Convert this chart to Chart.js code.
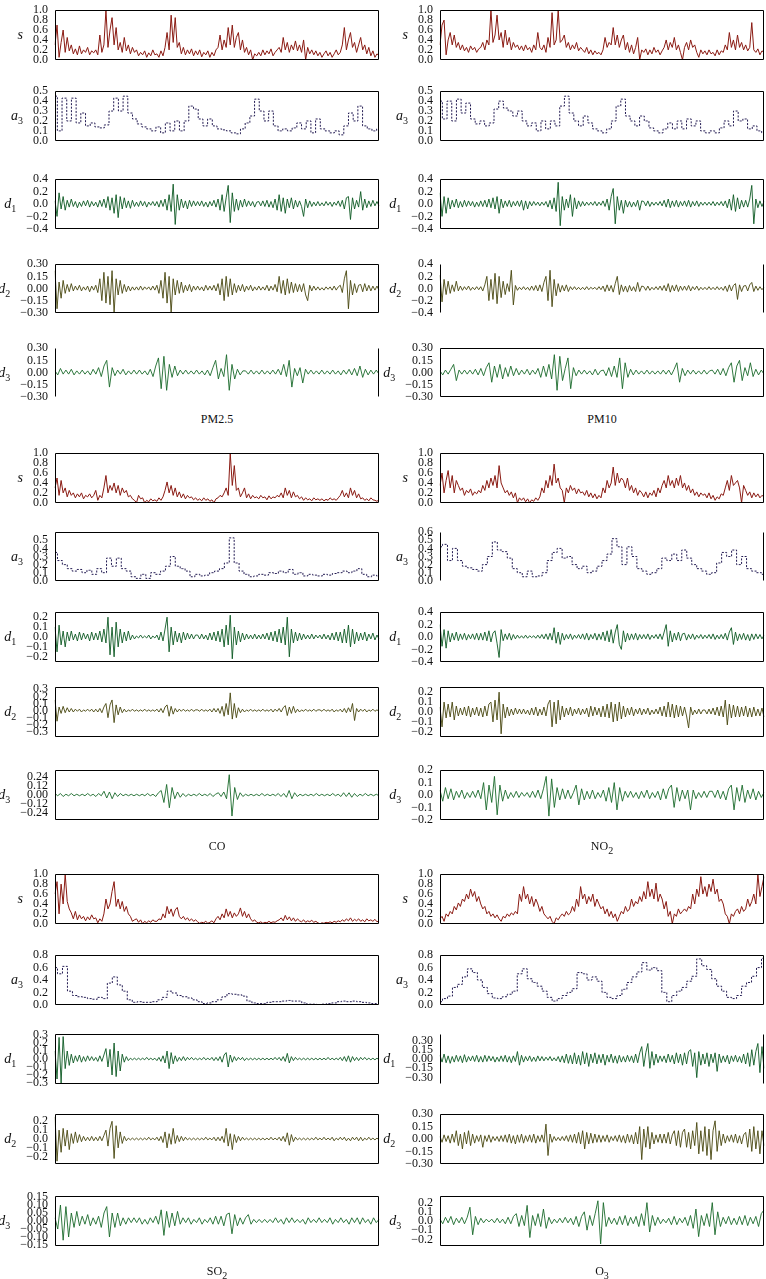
<!DOCTYPE html>
<html>
<head>
<meta charset="utf-8">
<script src="https://cdn.jsdelivr.net/npm/chart.js@4.4.1/dist/chart.umd.min.js"></script>
<style>
  body { margin: 0; background: #fff; width: 766px; height: 1279px; position: relative; overflow: hidden; font-family: "Liberation Serif", serif; color: #111; }
  .ylab { position: absolute; font-size: 14px; line-height: 18px; white-space: nowrap; }
  .ylab sub, .cap sub { font-style: normal; font-size: 10px; vertical-align: -4px; line-height: 0; }
  .cap { position: absolute; width: 200px; text-align: center; font-size: 12px; line-height: 16px; }
</style>
</head>
<body>
<script>
'use strict';

// values (normalised series s, approximation a3, details d1..d3)
const pm25S = [0.30,0.70,0.05,0.35,0.60,0.15,0.45,0.18,0.30,0.12, 0.22,0.10,0.28,0.12,0.20,0.15,0.25,0.10,0.18,0.14,
  0.20,0.10,0.50,0.15,0.30,1.00,0.25,0.60,0.85,0.30, 0.65,0.20,0.35,0.15,0.45,0.18,0.30,0.12,0.25,0.15,
  0.20,0.08,0.15,0.10,0.18,0.05,0.14,0.08,0.20,0.10, 0.12,0.05,0.18,0.08,0.25,0.55,0.20,0.90,0.35,0.85,
  0.25,0.35,0.12,0.25,0.10,0.20,0.12,0.22,0.08,0.18, 0.10,0.20,0.06,0.15,0.10,0.18,0.05,0.15,0.08,0.20,
  0.25,0.50,0.20,0.40,0.25,0.65,0.30,0.70,0.25,0.45, 0.55,0.20,0.40,0.15,0.25,0.10,0.20,0.00,0.12,0.08,
  0.15,0.08,0.20,0.10,0.18,0.12,0.22,0.08,0.15,0.20, 0.25,0.15,0.45,0.20,0.35,0.15,0.30,0.20,0.38,0.18,
  0.30,0.15,0.40,0.00,0.25,0.12,0.20,0.10,0.18,0.08, 0.15,0.05,0.12,0.18,0.08,0.15,0.05,0.12,0.20,0.10,
  0.15,0.30,0.65,0.20,0.40,0.55,0.25,0.35,0.15,0.30, 0.45,0.20,0.30,0.12,0.25,0.08,0.18,0.05,0.12,0.08];
const pm25A3 = [0.45,0.10,0.43,0.20,0.43,0.18,0.28,0.15,0.18,0.14,0.13,0.16,0.30,0.43,0.30,0.45,0.28,0.22,0.17,0.14,
  0.12,0.10,0.14,0.08,0.18,0.10,0.20,0.10,0.20,0.35,0.32,0.22,0.15,0.22,0.15,0.12,0.11,0.10,0.08,0.07,
  0.12,0.18,0.25,0.42,0.30,0.20,0.30,0.15,0.10,0.12,0.10,0.13,0.18,0.12,0.20,0.08,0.22,0.12,0.10,0.08,
  0.10,0.06,0.15,0.28,0.20,0.35,0.15,0.12,0.10,0.12];
const pm25D1 = [0.05,-0.20,0.18,-0.08,0.12,-0.10,0.06,-0.05,0.08,-0.04, 0.04,-0.06,0.03,-0.04,0.05,-0.03,0.06,-0.05,0.04,-0.03,
  0.03,-0.05,0.06,-0.04,0.08,-0.06,0.12,-0.10,0.10,-0.15, 0.15,-0.22,0.12,-0.08,0.10,-0.06,0.05,-0.07,0.06,-0.04,
  0.03,-0.04,0.05,-0.03,0.04,-0.05,0.03,-0.02,0.04,-0.03, 0.04,-0.05,0.06,-0.04,0.08,-0.10,0.15,-0.12,0.32,-0.33,
  0.15,-0.10,0.08,-0.06,0.05,-0.08,0.06,-0.04,0.05,-0.03, 0.04,-0.03,0.05,-0.04,0.03,-0.05,0.04,-0.03,0.06,-0.05,
  0.08,-0.10,0.15,-0.12,0.10,0.30,-0.30,0.18,-0.12,0.08, -0.10,0.06,-0.05,0.08,-0.04,0.05,-0.03,0.04,-0.05,0.03,
  0.04,-0.03,0.05,-0.04,0.06,-0.05,0.04,-0.06,0.08,-0.10, 0.15,-0.12,0.10,-0.15,0.08,-0.06,0.10,-0.08,0.06,-0.05,
  0.05,-0.04,-0.20,0.08,-0.06,0.05,-0.04,0.03,-0.03,0.04, -0.03,0.02,-0.03,0.04,-0.02,0.03,-0.04,0.03,-0.02,0.05,
  -0.04,0.06,-0.08,0.10,0.12,-0.25,0.10,-0.08,0.06,-0.05, 0.20,-0.10,0.08,-0.06,0.05,-0.04,0.06,-0.03,0.04,-0.03];
const pm25D2 = [0.22,-0.25,0.08,-0.12,0.10,-0.06,0.05,-0.04,0.06,-0.03, 0.03,-0.02,0.04,-0.03,0.02,-0.02,0.03,-0.04,0.03,-0.02,
  0.04,-0.05,0.12,-0.15,0.20,-0.18,0.15,-0.20,0.22,-0.30, 0.12,-0.08,0.10,-0.06,0.05,-0.04,0.03,-0.03,0.02,-0.02,
  0.02,-0.02,0.03,-0.02,0.02,-0.01,0.02,-0.02,0.03,-0.02, 0.04,-0.06,0.10,-0.12,0.20,-0.18,0.15,-0.30,0.12,-0.08,
  0.10,-0.06,0.08,-0.05,0.04,-0.03,0.05,-0.04,0.03,-0.02, 0.03,-0.02,0.02,-0.03,0.04,-0.02,0.03,-0.02,0.04,-0.03,
  0.06,-0.08,0.12,-0.15,0.15,-0.10,0.12,-0.08,0.06,-0.05, 0.04,-0.03,0.05,-0.04,0.03,-0.02,0.04,-0.03,0.02,-0.02,
  0.03,-0.02,0.02,-0.02,0.04,-0.03,0.03,-0.02,0.05,-0.04, 0.15,-0.06,0.10,-0.08,0.12,-0.06,0.08,-0.05,0.06,-0.04,
  0.05,-0.04,0.06,-0.08,-0.15,0.04,-0.03,0.03,-0.02,0.02, -0.02,0.01,-0.02,0.02,-0.01,0.02,-0.02,0.03,-0.02,0.02,
  0.04,-0.05,0.12,0.22,-0.25,0.10,-0.08,0.06,-0.05,0.04, 0.05,-0.04,0.06,-0.03,0.04,-0.03,0.03,-0.02,0.03,-0.02];
const pm25D3 = [0.02,-0.03,0.05,-0.02,0.03,-0.02,0.04,-0.03,0.02,-0.02, 0.03,-0.02,0.02,-0.03,0.04,-0.02,0.06,-0.05,0.08,0.15,
  -0.18,0.06,-0.04,0.03,-0.02,0.04,-0.03,0.02,-0.02,0.03, -0.02,0.03,-0.02,0.02,-0.03,0.04,-0.05,0.08,0.18,-0.20,
  0.20,-0.22,0.10,-0.06,0.08,-0.04,0.03,-0.02,0.03,-0.02, 0.02,-0.02,0.03,-0.02,0.02,-0.03,0.03,-0.04,0.06,0.15,
  -0.08,0.05,-0.05,0.22,-0.22,0.10,-0.08,0.04,-0.03,0.02, 0.02,-0.02,0.03,-0.02,0.02,-0.02,0.03,-0.02,0.02,-0.02,
  0.03,-0.02,0.04,-0.03,0.10,-0.05,0.15,-0.18,0.05,-0.04, 0.06,-0.13,0.04,-0.02,0.03,-0.02,0.02,-0.02,0.03,-0.02,
  0.02,-0.02,0.03,-0.02,0.02,-0.03,0.03,-0.02,0.04,-0.03, 0.05,-0.04,0.08,-0.06,0.04,-0.03,0.03,-0.02,0.03,-0.02];

const pm10S = [0.30,0.70,0.80,0.10,0.40,0.55,0.30,0.50,0.25,0.35, 0.20,0.30,0.18,0.25,0.15,0.28,0.20,0.25,0.15,0.22,
  0.25,0.35,0.20,0.40,0.30,1.00,0.35,0.50,0.90,0.40, 0.55,0.25,0.60,0.30,0.45,0.20,0.35,0.25,0.30,0.20,
  0.28,0.18,0.30,0.20,0.25,0.15,0.30,0.20,0.55,0.25, 0.20,0.30,0.15,0.45,0.25,0.95,0.30,0.40,1.00,0.35,
  0.40,0.50,0.25,0.35,0.20,0.30,0.22,0.35,0.18,0.25, 0.20,0.15,0.25,0.12,0.20,0.10,0.18,0.12,0.15,0.10,
  0.20,0.45,0.25,0.35,0.30,0.65,0.30,0.50,0.25,0.40, 0.50,0.20,0.35,0.15,0.30,0.12,0.25,0.45,0.00,0.20,
  0.15,0.22,0.10,0.20,0.12,0.25,0.15,0.20,0.10,0.18, 0.25,0.40,0.20,0.35,0.25,0.45,0.20,0.30,0.15,0.00,
  0.25,0.35,0.20,0.40,0.25,0.30,0.15,0.05,0.20,0.12, 0.18,0.10,0.20,0.12,0.15,0.08,0.20,0.10,0.18,0.15,
  0.30,0.20,0.55,0.25,0.40,0.20,0.50,0.25,0.35,0.20, 0.30,0.18,0.25,0.75,0.20,0.15,0.22,0.10,0.18,0.15];
const pm10A3 = [0.40,0.22,0.40,0.20,0.42,0.28,0.38,0.22,0.17,0.20,0.15,0.18,0.32,0.40,0.33,0.30,0.25,0.30,0.20,0.15,
  0.18,0.10,0.20,0.12,0.20,0.15,0.35,0.45,0.28,0.20,0.15,0.25,0.18,0.12,0.10,0.08,0.12,0.20,0.35,0.42,
  0.25,0.20,0.15,0.25,0.20,0.13,0.10,0.08,0.12,0.18,0.12,0.20,0.12,0.22,0.15,0.20,0.10,0.08,0.10,0.08,
  0.13,0.20,0.15,0.30,0.20,0.22,0.12,0.15,0.10,0.08];
const pm10D1 = [0.18,-0.20,0.12,-0.15,0.10,-0.08,0.06,-0.05,0.08,-0.06, 0.04,-0.05,0.06,-0.04,0.05,-0.03,0.04,-0.05,0.03,-0.04,
  0.05,-0.04,0.06,-0.05,0.08,-0.06,0.10,-0.08,0.12,-0.15, 0.08,-0.06,0.05,-0.04,0.06,-0.05,0.04,-0.03,0.05,-0.04,
  0.06,-0.10,0.05,-0.08,0.04,-0.03,0.04,-0.02,0.03,-0.03, 0.03,-0.02,0.04,-0.05,0.06,-0.08,0.10,-0.12,0.35,-0.35,
  0.12,-0.10,0.08,-0.06,0.15,-0.20,0.10,-0.08,0.05,-0.04, 0.04,-0.03,0.03,-0.02,0.03,-0.02,0.04,-0.03,0.03,-0.02,
  0.05,-0.04,0.08,-0.10,0.12,0.25,-0.32,0.12,-0.10,0.06, -0.15,0.06,-0.05,0.04,-0.05,0.03,-0.04,0.06,-0.10,0.05,
  0.04,-0.03,0.05,-0.04,0.03,-0.02,0.03,-0.02,0.04,-0.03, 0.06,-0.05,0.08,-0.06,0.05,-0.04,0.06,-0.05,0.04,-0.03,
  0.05,-0.04,0.06,-0.05,0.04,-0.03,0.05,-0.04,0.03,-0.02, 0.03,-0.02,0.03,-0.02,0.04,-0.03,0.03,-0.02,0.04,-0.03,
  0.05,-0.06,0.08,-0.10,0.15,-0.12,0.10,-0.08,0.06,-0.05, 0.06,-0.05,0.08,0.30,-0.32,0.08,-0.06,0.05,-0.04,0.04];
const pm10D2 = [0.22,-0.22,0.15,-0.10,0.12,-0.08,0.06,-0.05,0.12,-0.04, 0.04,-0.03,0.03,-0.02,0.04,-0.03,0.02,-0.02,0.03,-0.02,
  0.03,-0.04,0.06,0.20,-0.20,0.15,-0.18,0.25,-0.25,0.20, -0.15,0.12,-0.10,0.08,-0.05,0.30,-0.27,0.05,-0.03,0.02,
  -0.02,0.03,-0.02,0.02,-0.03,0.04,-0.03,0.05,-0.04,0.06, -0.05,0.10,0.20,-0.20,0.30,-0.30,0.15,-0.12,0.08,-0.06,
  0.05,-0.04,0.06,-0.05,0.03,-0.02,0.03,-0.02,0.02,-0.02, 0.02,-0.02,0.03,-0.02,0.02,-0.01,0.02,-0.02,0.03,-0.02,
  0.04,-0.05,0.06,-0.04,0.05,-0.06,0.08,0.20,-0.10,0.06, -0.05,0.04,-0.06,0.05,-0.04,0.03,-0.05,0.10,-0.05,0.04,
  0.03,-0.03,0.04,-0.03,0.02,-0.02,0.03,-0.02,0.04,-0.03, 0.05,-0.04,0.08,-0.06,0.05,-0.04,0.06,-0.05,0.04,-0.03,
  0.04,-0.03,0.05,-0.04,0.03,-0.02,0.04,-0.03,0.02,-0.02, 0.02,-0.02,0.03,-0.02,0.02,-0.02,0.03,-0.02,0.02,-0.03,
  0.04,-0.05,0.06,-0.04,0.05,0.08,-0.18,0.06,-0.05,0.04, 0.05,-0.04,0.06,0.10,-0.05,0.04,-0.03,0.03,-0.02,0.02];
const pm10D3 = [0.02,-0.03,0.03,-0.02,0.04,0.10,-0.10,0.03,-0.02,0.03, -0.02,0.03,-0.02,0.04,-0.03,0.05,-0.04,0.06,0.12,-0.12,
  0.08,-0.06,0.10,-0.08,0.06,-0.05,0.08,-0.04,0.05,-0.03, 0.03,-0.02,0.04,-0.03,0.03,-0.02,0.05,-0.06,0.08,-0.05,
  0.10,-0.08,0.22,-0.22,0.20,-0.10,0.05,0.18,-0.20,0.06, -0.04,0.03,-0.02,0.03,-0.02,0.02,-0.03,0.04,-0.03,0.02,
  0.03,-0.04,0.06,-0.05,0.08,-0.06,0.18,-0.20,0.12,-0.06, 0.04,-0.03,0.03,-0.02,0.02,-0.02,0.03,-0.02,0.02,-0.02,
  0.02,-0.02,0.03,-0.02,0.03,-0.03,0.04,0.12,-0.12,0.05, -0.04,0.03,-0.02,0.03,-0.02,0.02,-0.02,0.03,-0.02,0.02,
  0.03,-0.02,0.04,-0.03,0.05,-0.04,0.06,0.12,-0.12,0.08, 0.15,-0.10,0.06,-0.04,0.12,-0.05,0.04,-0.03,0.03,-0.02];

const coS = [0.30,0.50,0.15,0.45,0.20,0.30,0.12,0.25,0.15,0.20, 0.10,0.18,0.12,0.20,0.08,0.15,0.12,0.18,0.10,0.15,
  0.25,0.05,0.15,0.10,0.30,0.55,0.20,0.35,0.25,0.40, 0.20,0.35,0.15,0.30,0.20,0.25,0.12,0.15,0.08,0.05,
  0.00,0.15,0.08,0.10,0.00,0.05,0.02,0.08,0.04,0.06, 0.03,0.10,0.05,0.12,0.25,0.42,0.20,0.35,0.15,0.30,
  0.12,0.22,0.10,0.18,0.08,0.15,0.10,0.12,0.06,0.10, 0.05,0.08,0.04,0.10,0.05,0.08,0.03,0.06,0.00,0.08,
  0.10,0.15,0.12,0.20,0.30,0.15,1.00,0.35,0.75,0.25, 0.30,0.12,0.20,0.30,0.10,0.18,0.08,0.15,0.10,0.12,
  0.08,0.15,0.10,0.12,0.06,0.14,0.08,0.12,0.10,0.15, 0.12,0.20,0.10,0.30,0.15,0.25,0.10,0.22,0.12,0.15,
  0.08,0.12,0.05,0.10,0.06,0.08,0.04,0.10,0.06,0.08, 0.05,0.08,0.04,0.07,0.05,0.10,0.06,0.08,0.05,0.10,
  0.15,0.25,0.12,0.20,0.10,0.30,0.15,0.25,0.10,0.18, 0.08,0.10,0.05,0.08,0.04,0.10,0.06,0.05,0.03,0.06];
const coA3 = [0.35,0.25,0.20,0.15,0.12,0.14,0.10,0.13,0.08,0.15,0.10,0.28,0.18,0.28,0.15,0.12,0.05,0.03,0.08,0.03,
  0.10,0.08,0.12,0.18,0.30,0.18,0.15,0.12,0.05,0.08,0.06,0.07,0.10,0.12,0.15,0.22,0.53,0.22,0.12,0.08,
  0.05,0.06,0.08,0.07,0.10,0.09,0.12,0.10,0.14,0.08,0.10,0.06,0.08,0.07,0.06,0.08,0.07,0.09,0.10,0.12,
  0.10,0.12,0.15,0.08,0.05,0.07,0.06];
const coD1 = [0.10,-0.15,0.12,-0.08,0.06,-0.10,0.05,-0.04,0.06,-0.03, 0.03,-0.04,0.05,-0.03,0.04,-0.02,0.03,-0.04,0.05,-0.03,
  0.04,-0.03,0.06,-0.05,0.08,-0.06,0.20,-0.18,0.10,-0.20, 0.15,-0.10,0.08,-0.06,0.05,-0.04,0.06,-0.03,0.02,-0.02,
  0.01,-0.01,0.02,-0.01,0.01,-0.01,0.02,-0.02,0.01,-0.01, 0.02,-0.03,0.05,-0.04,0.08,0.20,-0.15,0.10,-0.08,0.06,
  -0.05,0.04,-0.06,0.05,-0.03,0.04,-0.02,0.03,-0.02,0.02, 0.02,-0.02,0.03,-0.02,0.02,-0.03,0.04,-0.03,0.05,-0.04,
  0.06,-0.05,0.08,-0.10,0.12,-0.08,0.22,-0.22,0.10,-0.08, 0.06,-0.05,0.04,-0.03,0.03,-0.02,0.02,-0.02,0.03,-0.02,
  0.02,-0.02,0.03,-0.02,0.04,-0.03,0.05,-0.04,0.06,-0.05, 0.08,-0.06,0.10,-0.08,0.20,-0.20,0.08,-0.06,0.05,-0.04,
  0.04,-0.03,0.03,-0.02,0.02,-0.02,0.03,-0.02,0.02,-0.01, 0.02,-0.02,0.03,-0.02,0.02,-0.03,0.04,-0.03,0.05,-0.04,
  0.05,-0.06,0.08,-0.06,0.12,-0.10,0.08,-0.07,0.05,-0.04, 0.04,-0.03,0.05,-0.04,0.03,-0.02,0.04,-0.03,0.02,-0.02];
const coD2 = [0.15,-0.15,0.05,-0.04,0.06,-0.03,0.04,-0.02,0.03,-0.02, 0.02,-0.01,0.02,-0.02,0.01,-0.01,0.02,-0.01,0.02,-0.02,
  0.02,-0.02,0.03,-0.03,0.05,0.10,-0.10,0.08,0.15,-0.17, 0.08,-0.06,0.05,-0.03,0.02,-0.02,0.01,-0.01,0.02,-0.01,
  0.01,-0.01,0.01,-0.01,0.02,-0.01,0.01,-0.01,0.01,-0.01, 0.02,-0.02,0.03,-0.03,0.05,0.08,-0.08,0.06,-0.05,0.03,
  -0.02,0.02,-0.01,0.02,-0.01,0.01,-0.01,0.02,-0.01,0.01, 0.01,-0.01,0.02,-0.01,0.01,-0.01,0.02,-0.02,0.03,-0.02,
  0.03,-0.04,0.06,-0.08,0.10,-0.06,0.25,-0.12,0.10,-0.10, 0.04,-0.03,0.02,-0.02,0.01,-0.01,0.02,-0.01,0.01,-0.01,
  0.01,-0.01,0.02,-0.01,0.01,-0.01,0.02,-0.02,0.02,-0.01, 0.03,-0.02,0.04,0.07,-0.07,0.05,-0.04,0.06,-0.03,0.02,
  -0.02,0.01,-0.01,0.02,-0.01,0.01,-0.01,0.02,-0.01,0.01, 0.01,-0.01,0.02,-0.01,0.01,-0.01,0.02,-0.02,0.01,-0.01,
  0.02,-0.02,0.03,-0.03,0.04,-0.02,0.10,-0.14,0.03,-0.02, 0.02,-0.01,0.02,-0.02,0.01,-0.01,0.02,-0.01,0.01,-0.01];
const coD3 = [0.02,-0.01,0.02,-0.02,0.01,-0.01,0.02,-0.01,0.01,-0.01, 0.01,-0.01,0.02,-0.01,0.01,-0.02,0.02,-0.01,0.05,-0.04,
  0.04,-0.05,0.03,-0.02,0.02,-0.01,0.01,-0.01,0.01,-0.01, 0.01,-0.01,0.01,-0.01,0.02,-0.01,0.01,-0.02,0.03,0.06,
  -0.10,0.14,-0.17,0.10,-0.05,0.04,-0.03,0.02,-0.02,0.01, -0.01,0.01,-0.01,0.02,-0.01,0.01,-0.01,0.02,-0.02,0.01,
  0.03,-0.02,0.04,-0.05,0.27,-0.28,0.10,-0.06,0.03,-0.02, 0.01,-0.01,0.01,-0.01,0.01,-0.01,0.02,-0.01,0.01,-0.01,
  0.01,-0.01,0.02,-0.02,0.02,-0.03,0.06,-0.05,0.03,-0.02, 0.01,-0.01,0.01,-0.01,0.01,-0.01,0.02,-0.01,0.01,-0.01,
  0.01,-0.01,0.02,-0.01,0.01,-0.02,0.03,-0.02,0.03,-0.03, 0.02,-0.02,0.01,-0.01,0.02,-0.01,0.01,-0.01,0.01,-0.01];

const no2S = [0.35,0.60,0.20,0.45,0.65,0.30,0.55,0.20,0.45,0.35, 0.25,0.30,0.15,0.25,0.20,0.28,0.15,0.22,0.18,0.25,
  0.20,0.35,0.25,0.45,0.30,0.50,0.35,0.55,0.30,0.75, 0.40,0.30,0.20,0.25,0.15,0.22,0.10,0.20,0.00,0.10,
  0.05,0.10,0.02,0.08,0.00,0.06,0.03,0.10,0.05,0.12, 0.30,0.20,0.45,0.30,0.55,0.35,0.78,0.40,0.50,0.30,
  0.25,0.00,0.30,0.20,0.35,0.25,0.30,0.18,0.28,0.20, 0.22,0.15,0.25,0.12,0.20,0.10,0.18,0.08,0.15,0.10,
  0.30,0.20,0.45,0.30,0.40,0.72,0.35,0.60,0.40,0.50, 0.45,0.30,0.50,0.25,0.35,0.20,0.30,0.15,0.25,0.20,
  0.12,0.22,0.10,0.20,0.15,0.25,0.12,0.30,0.20,0.35, 0.45,0.30,0.55,0.35,0.45,0.30,0.50,0.35,0.55,0.30,
  0.40,0.25,0.35,0.20,0.28,0.15,0.22,0.12,0.20,0.15, 0.18,0.10,0.20,0.08,0.15,0.05,0.12,0.08,0.18,0.15,
  0.30,0.45,0.25,0.55,0.35,0.40,0.45,0.30,0.00,0.35, 0.25,0.15,0.22,0.10,0.20,0.12,0.18,0.10,0.15,0.12];
const no2A3 = [0.42,0.45,0.25,0.40,0.25,0.18,0.16,0.14,0.12,0.20,0.30,0.48,0.38,0.36,0.28,0.15,0.10,0.05,0.12,0.05,
  0.06,0.10,0.25,0.35,0.40,0.28,0.30,0.20,0.15,0.18,0.10,0.12,0.18,0.25,0.33,0.52,0.42,0.20,0.42,0.30,
  0.15,0.12,0.08,0.10,0.15,0.28,0.25,0.33,0.25,0.38,0.28,0.20,0.15,0.12,0.08,0.10,0.22,0.35,0.30,0.38,
  0.20,0.30,0.15,0.12,0.10,0.08];
const no2D1 = [0.20,-0.15,0.12,-0.18,0.10,-0.08,0.06,-0.05,0.08,-0.06, 0.05,-0.04,0.06,-0.05,0.04,-0.03,0.05,-0.04,0.06,-0.05,
  0.06,-0.05,0.08,-0.06,0.10,-0.08,0.06,0.10,-0.10,-0.33, 0.12,-0.06,0.05,-0.04,0.06,-0.05,0.04,-0.03,0.03,-0.02,
  0.02,-0.02,0.03,-0.02,0.02,-0.01,0.02,-0.02,0.03,-0.02, 0.04,-0.03,0.05,-0.04,0.06,-0.05,0.15,-0.10,0.08,-0.12,
  0.06,-0.05,0.04,-0.03,0.05,-0.04,0.03,-0.02,0.04,-0.03, 0.05,-0.04,0.06,-0.05,0.04,-0.03,0.06,-0.05,0.05,-0.04,
  0.08,-0.06,0.10,-0.08,0.12,-0.10,0.08,0.20,-0.12,-0.20, 0.10,-0.08,0.06,-0.05,0.05,-0.04,0.06,-0.05,0.04,-0.03,
  0.04,-0.03,0.05,-0.04,0.03,-0.02,0.04,-0.03,0.05,-0.04, 0.08,0.20,-0.15,0.10,-0.08,0.06,-0.05,0.08,-0.06,0.05,
  0.06,-0.05,0.04,-0.03,0.05,-0.04,0.03,-0.02,0.04,-0.03, 0.03,-0.02,0.04,-0.03,0.05,-0.04,0.03,-0.03,0.04,-0.03,
  0.06,-0.05,0.08,0.15,-0.12,0.08,-0.06,0.05,-0.04,0.06, -0.05,0.04,-0.06,0.05,-0.04,0.05,-0.03,0.04,-0.03,0.03];
const no2D2 = [0.05,-0.15,0.10,-0.06,0.08,-0.05,0.10,-0.08,0.06,-0.04, 0.04,-0.03,0.05,-0.04,0.06,-0.05,0.04,-0.03,0.05,-0.04,
  0.04,-0.05,0.06,-0.04,0.08,0.10,-0.10,0.12,-0.08,0.20, -0.22,0.08,-0.06,0.05,-0.04,0.03,-0.03,0.04,-0.02,0.03,
  -0.02,0.03,-0.02,0.02,-0.03,0.04,-0.03,0.05,-0.04,0.03, -0.03,0.05,-0.04,0.08,0.12,-0.15,0.10,-0.12,0.12,-0.08,
  0.06,-0.05,0.04,-0.03,0.05,-0.04,0.03,-0.02,0.04,-0.03, 0.03,-0.02,0.04,-0.05,0.06,-0.04,0.05,-0.03,0.04,-0.05,
  0.06,-0.05,0.08,-0.06,0.10,-0.10,0.08,-0.09,0.10,-0.07, 0.06,-0.05,0.04,-0.03,0.05,-0.04,0.03,-0.02,0.04,-0.03,
  0.03,-0.02,0.04,-0.03,0.02,-0.02,0.03,-0.02,0.05,-0.04, 0.06,-0.05,0.10,-0.05,0.08,-0.06,0.07,-0.05,0.06,-0.04,
  0.05,-0.04,-0.16,0.05,-0.03,0.02,-0.02,0.03,-0.02,0.02, 0.02,-0.02,0.03,-0.02,0.04,-0.03,0.05,-0.04,0.06,-0.05,
  0.12,-0.13,0.08,-0.06,0.07,-0.05,0.06,-0.05,0.05,-0.04, 0.06,-0.05,0.04,-0.05,0.05,-0.04,0.03,-0.04,0.04,-0.05];
const no2D3 = [0.04,-0.05,0.06,-0.03,0.05,-0.04,0.03,-0.02,0.04,-0.03, 0.02,-0.02,0.03,-0.02,0.04,-0.03,0.10,-0.12,0.08,-0.06,
  0.15,-0.16,0.08,-0.05,0.04,-0.03,0.02,-0.02,0.03,-0.02, 0.02,-0.01,0.02,-0.02,0.03,-0.02,0.04,-0.03,0.05,0.15,
  -0.17,0.13,-0.10,0.06,-0.04,0.05,-0.03,0.04,-0.03,0.02, 0.08,-0.08,0.05,-0.04,0.03,-0.03,0.04,-0.03,0.02,-0.02,
  0.04,-0.05,0.06,-0.06,0.10,-0.12,0.06,-0.05,0.03,-0.02, 0.03,-0.02,0.02,-0.03,0.03,-0.02,0.04,-0.03,0.02,-0.02,
  0.03,-0.04,0.05,-0.03,0.05,0.08,-0.10,0.06,-0.05,0.04, -0.03,0.04,-0.12,0.04,-0.03,0.02,-0.02,0.03,-0.02,0.03,
  0.03,-0.02,0.04,-0.03,0.03,-0.04,0.05,0.08,-0.12,0.06, -0.05,0.08,-0.06,0.04,-0.03,0.05,-0.04,0.03,-0.02,0.02];

const so2S = [0.60,0.85,0.20,0.80,0.40,1.00,0.45,0.30,0.22,0.10, 0.25,0.08,0.18,0.10,0.15,0.06,0.14,0.08,0.18,0.10,
  0.12,0.02,0.10,0.05,0.20,0.50,0.30,0.40,0.65,0.85, 0.35,0.50,0.30,0.45,0.25,0.35,0.20,0.15,0.05,0.08,
  0.10,0.03,0.08,0.00,0.05,0.02,0.06,0.03,0.08,0.05, 0.05,0.10,0.08,0.20,0.12,0.35,0.20,0.30,0.15,0.28,
  0.33,0.15,0.10,0.15,0.08,0.12,0.06,0.10,0.05,0.08, 0.04,0.01,0.03,0.02,0.05,0.01,0.03,0.06,0.02,0.10,
  0.15,0.08,0.20,0.12,0.30,0.15,0.25,0.12,0.22,0.15, 0.20,0.32,0.15,0.25,0.12,0.20,0.10,0.05,0.08,0.03,
  0.02,0.04,0.01,0.03,0.02,0.05,0.02,0.04,0.03,0.06, 0.08,0.12,0.06,0.17,0.08,0.14,0.06,0.12,0.05,0.10,
  0.06,0.04,0.08,0.03,0.06,0.04,0.07,0.03,0.05,0.02, 0.00,0.02,0.01,0.03,0.02,0.04,0.02,0.05,0.03,0.06,
  0.04,0.08,0.05,0.10,0.06,0.12,0.05,0.09,0.06,0.10, 0.05,0.08,0.04,0.10,0.06,0.08,0.05,0.09,0.04,0.06];
const so2A3 = [0.60,0.50,0.62,0.22,0.15,0.13,0.12,0.10,0.09,0.12,0.10,0.35,0.45,0.32,0.22,0.08,0.04,0.05,0.04,0.04,
  0.05,0.08,0.12,0.22,0.19,0.15,0.13,0.11,0.08,0.05,0.02,0.03,0.05,0.08,0.13,0.18,0.17,0.16,0.14,0.06,
  0.03,0.02,0.02,0.04,0.05,0.05,0.06,0.07,0.06,0.06,0.03,0.01,0.01,0.00,0.01,0.02,0.03,0.05,0.06,0.05,
  0.06,0.05,0.04,0.03,0.02,0.02];
const so2D1 = [0.10,-0.25,0.27,-0.30,0.28,-0.12,0.10,-0.08,0.06,-0.05, 0.04,-0.03,0.05,-0.04,0.03,-0.03,0.04,-0.02,0.03,-0.02,
  0.02,-0.03,0.04,-0.03,0.05,0.13,-0.10,0.12,-0.20,0.20, -0.22,0.10,-0.15,0.06,-0.04,0.03,-0.02,0.01,-0.01,0.01,
  -0.01,0.01,-0.01,0.01,-0.01,0.02,-0.01,0.01,-0.01,0.01, -0.02,0.02,-0.03,0.04,-0.05,0.10,-0.12,0.08,-0.06,0.04,
  -0.03,0.02,-0.02,0.03,-0.02,0.02,-0.01,0.02,-0.01,0.01, -0.01,0.01,-0.01,0.02,-0.01,0.01,-0.01,0.02,-0.02,0.02,
  -0.02,0.03,-0.04,0.05,0.08,-0.10,0.05,-0.04,0.03,-0.02, 0.02,-0.01,0.02,-0.02,0.01,-0.01,0.01,-0.01,0.01,-0.01,
  0.01,-0.01,0.01,-0.01,0.01,-0.01,0.01,-0.01,0.02,-0.01, 0.02,-0.02,0.03,-0.03,0.07,-0.05,0.03,-0.02,0.02,-0.01,
  0.01,-0.01,0.01,-0.01,0.01,-0.01,0.01,-0.01,0.01,-0.01, 0.01,-0.01,0.01,-0.01,0.02,-0.01,0.01,-0.01,0.01,-0.01,
  0.02,-0.02,0.03,-0.03,0.04,-0.04,0.03,-0.02,0.02,-0.02, 0.02,-0.01,0.02,-0.01,0.01,-0.01,0.01,-0.01,0.01,-0.01];
const so2D2 = [0.25,-0.25,0.10,-0.15,0.12,-0.08,0.10,-0.12,0.06,-0.05, 0.08,-0.04,0.05,-0.03,0.03,-0.02,0.02,-0.02,0.03,-0.02,
  0.02,-0.02,0.03,-0.02,0.04,0.10,-0.08,0.12,0.20,-0.22, 0.15,-0.10,0.08,-0.05,0.03,-0.02,0.01,-0.01,0.01,-0.01,
  0.01,-0.01,0.01,-0.01,0.01,-0.01,0.02,-0.01,0.01,-0.01, 0.02,-0.02,0.03,-0.04,0.08,-0.10,0.06,-0.06,0.12,-0.05,
  0.04,-0.03,0.03,-0.02,0.02,-0.01,0.01,-0.01,0.01,-0.01, 0.01,-0.01,0.01,-0.01,0.02,-0.01,0.01,-0.01,0.02,-0.02,
  0.02,-0.02,0.03,-0.04,0.12,-0.08,0.06,-0.12,0.05,-0.04, 0.03,-0.02,0.02,-0.01,0.01,-0.01,0.01,-0.01,0.01,-0.01,
  0.01,-0.01,0.01,-0.01,0.01,-0.01,0.02,-0.01,0.01,-0.01, 0.02,-0.02,0.03,-0.03,0.07,-0.07,0.05,-0.03,0.02,-0.01,
  0.01,-0.01,0.01,-0.01,0.01,-0.01,0.01,-0.01,0.02,-0.01, 0.01,-0.01,0.02,-0.01,0.01,-0.01,0.02,-0.02,0.01,-0.01,
  0.02,-0.01,0.02,-0.02,0.01,-0.02,0.02,-0.01,0.02,-0.02, 0.02,-0.02,0.01,-0.01,0.02,-0.01,0.01,-0.01,0.01,-0.01];
const so2D3 = [0.02,-0.05,0.10,-0.12,0.09,-0.10,0.05,-0.04,0.06,-0.03, 0.03,-0.02,0.04,-0.03,0.02,-0.02,0.03,-0.04,0.05,0.09,
  -0.10,0.05,-0.04,0.05,-0.03,0.02,-0.02,0.02,-0.01,0.02, -0.01,0.02,-0.02,0.01,-0.02,0.02,-0.01,0.03,-0.02,0.07,
  -0.09,0.06,-0.04,0.05,-0.03,0.06,-0.02,0.02,-0.01,0.02, -0.02,0.01,-0.01,0.02,-0.02,0.01,-0.01,0.02,-0.02,0.03,
  -0.02,0.03,-0.03,0.04,0.05,-0.08,0.04,-0.03,0.02,-0.02, 0.02,0.04,-0.02,0.01,-0.01,0.01,-0.01,0.01,-0.01,0.01,
  -0.01,0.02,-0.01,0.01,-0.02,0.02,-0.01,0.02,-0.01,0.01, -0.01,0.01,-0.02,0.02,-0.01,0.01,-0.01,0.02,-0.01,0.01,
  -0.01,0.02,-0.02,0.01,-0.01,0.02,-0.01,0.01,-0.02,0.02, -0.01,0.02,-0.02,0.02,-0.01,0.01,-0.02,0.02,-0.01,0.01];

const o3S = [0.10,0.15,0.05,0.20,0.15,0.25,0.20,0.35,0.28,0.42, 0.35,0.50,0.45,0.60,0.50,0.70,0.55,0.65,0.45,0.55,
  0.40,0.30,0.35,0.20,0.25,0.15,0.20,0.12,0.18,0.10, 0.05,0.15,0.12,0.20,0.15,0.22,0.18,0.25,0.20,0.60,
  0.45,0.75,0.50,0.60,0.40,0.55,0.35,0.50,0.40,0.25, 0.35,0.20,0.15,0.10,0.15,0.05,0.00,0.12,0.08,0.15,
  0.20,0.15,0.25,0.18,0.22,0.35,0.25,0.50,0.35,0.75, 0.50,0.60,0.40,0.55,0.45,0.60,0.35,0.50,0.40,0.30,
  0.35,0.20,0.30,0.15,0.25,0.12,0.20,0.05,0.15,0.25, 0.20,0.35,0.25,0.30,0.50,0.35,0.45,0.40,0.55,0.45,
  0.65,0.50,0.85,0.55,0.70,0.50,0.82,0.45,0.60,0.50, 0.30,0.45,0.15,0.25,0.00,0.20,0.15,0.30,0.20,0.25,
  0.30,0.25,0.35,0.30,0.60,0.40,0.70,0.55,0.95,0.60, 0.75,0.55,0.80,0.65,0.90,0.60,0.70,0.45,0.50,0.40,
  0.20,0.15,0.00,0.20,0.15,0.25,0.30,0.20,0.35,0.25, 0.30,0.50,0.35,0.45,0.60,0.40,1.00,0.55,0.75,0.95];
const o3A3 = [0.05,0.10,0.14,0.28,0.33,0.45,0.58,0.52,0.40,0.28,0.18,0.11,0.10,0.13,0.17,0.22,0.50,0.58,0.42,0.36,
  0.30,0.22,0.12,0.06,0.10,0.15,0.20,0.26,0.52,0.50,0.40,0.45,0.38,0.20,0.12,0.10,0.15,0.25,0.36,0.45,
  0.53,0.68,0.56,0.60,0.55,0.20,0.05,0.15,0.22,0.28,0.38,0.46,0.74,0.63,0.57,0.42,0.30,0.22,0.12,0.10,
  0.15,0.30,0.36,0.46,0.60,0.75];
const o3D1 = [0.06,-0.05,0.08,-0.06,0.05,-0.07,0.04,-0.05,0.06,-0.04, 0.05,-0.06,0.07,-0.05,0.04,-0.03,0.05,-0.04,0.06,-0.05,
  0.04,-0.05,0.06,-0.04,0.05,-0.03,0.04,-0.05,0.03,-0.04, 0.05,-0.04,0.06,-0.05,0.04,-0.06,0.05,-0.04,0.12,-0.10,
  0.06,-0.05,0.04,-0.03,0.05,-0.04,0.03,-0.04,0.05,-0.03, 0.04,-0.03,0.03,-0.02,0.04,-0.03,0.02,-0.03,0.04,-0.05,
  0.05,-0.06,0.08,-0.07,0.06,-0.08,0.10,-0.08,0.06,-0.10, 0.12,-0.08,0.10,-0.12,0.08,-0.06,0.10,-0.08,0.07,-0.06,
  0.08,-0.10,0.06,-0.05,0.08,-0.06,0.05,-0.07,0.06,-0.05, 0.04,-0.05,0.06,-0.04,0.05,-0.06,0.08,-0.06,0.10,0.20,
  -0.12,0.10,0.25,-0.15,0.12,-0.10,0.08,-0.06,0.05,-0.04, 0.05,-0.06,0.08,-0.05,0.06,-0.08,0.10,-0.06,0.08,-0.10,
  0.10,-0.08,0.12,0.15,-0.12,0.10,-0.30,0.12,-0.10,0.08, -0.08,0.10,-0.12,0.08,-0.06,0.10,-0.20,0.08,-0.06,0.05,
  -0.05,0.06,-0.08,0.05,-0.04,0.06,-0.05,0.04,-0.06,0.08, -0.08,0.10,-0.12,0.15,-0.10,0.12,0.25,-0.22,0.20,-0.15];
const o3D2 = [0.03,-0.04,0.05,-0.03,0.04,-0.05,0.06,-0.04,0.10,-0.08, 0.06,-0.12,0.08,-0.06,0.10,-0.08,0.06,-0.05,0.04,-0.03,
  0.05,-0.10,0.04,-0.03,0.05,-0.04,0.03,-0.02,0.03,-0.03, 0.04,-0.03,0.05,-0.04,0.06,-0.05,0.04,-0.06,0.05,-0.04,
  0.06,-0.05,0.04,-0.03,0.05,-0.04,0.06,-0.05,0.04,-0.03, 0.05,-0.04,0.18,-0.20,0.06,-0.04,0.03,-0.02,0.02,-0.02,
  0.03,-0.02,0.04,-0.03,0.05,-0.04,0.06,-0.05,0.08,-0.06, 0.10,-0.12,0.08,-0.06,0.07,-0.05,0.06,-0.04,0.05,-0.04,
  0.04,-0.03,0.05,-0.04,0.03,-0.02,0.04,-0.03,0.05,-0.04, 0.04,-0.05,0.06,-0.04,0.05,-0.06,0.08,-0.06,0.15,-0.25,
  0.12,-0.10,0.15,-0.12,0.08,-0.06,0.05,-0.04,0.06,-0.05, 0.06,-0.05,0.08,-0.06,0.05,0.10,-0.08,0.10,-0.10,0.08,
  0.12,-0.10,0.08,-0.12,0.10,-0.08,0.20,-0.18,0.10,-0.15, 0.15,-0.20,0.12,-0.25,0.10,0.22,-0.15,0.10,-0.08,0.06,
  -0.05,0.04,-0.03,0.05,-0.04,0.06,-0.05,0.04,-0.06,0.05, 0.08,-0.10,0.12,-0.15,0.15,-0.12,0.10,-0.18,0.10,-0.08];
const o3D3 = [0.02,-0.03,0.04,-0.02,0.05,-0.04,0.03,-0.02,0.04,-0.03, 0.04,0.15,-0.15,0.05,-0.04,0.03,-0.02,0.02,-0.01,0.02,
  -0.02,0.03,-0.02,0.02,-0.03,0.04,-0.03,0.05,0.08,-0.06, 0.06,-0.05,0.17,-0.18,0.06,-0.05,0.08,-0.06,0.13,-0.08,
  0.04,-0.03,0.02,-0.02,0.03,-0.02,0.04,-0.02,0.03,-0.04, 0.05,-0.06,0.05,0.10,-0.10,0.06,-0.05,0.08,0.22,-0.25,
  0.20,-0.06,0.04,-0.03,0.03,-0.04,0.05,-0.04,0.06,-0.05, 0.04,-0.03,0.05,-0.06,0.08,-0.05,0.20,-0.12,0.06,-0.05,
  0.04,-0.03,0.02,-0.02,0.03,-0.04,0.05,-0.04,0.03,-0.02, 0.04,-0.05,0.06,-0.08,0.13,-0.17,0.06,-0.05,0.08,-0.06,
  0.20,-0.15,0.10,-0.06,0.04,-0.03,0.05,-0.04,0.03,-0.04, 0.05,-0.04,0.06,-0.05,0.04,-0.03,0.05,-0.06,0.08,0.12];

// tick labels
const ticksS = [0, 0.2, 0.4, 0.6, 0.8, 1.0];
const ticksA5 = [0, 0.1, 0.2, 0.3, 0.4, 0.5];
const ticksA6 = [0, 0.1, 0.2, 0.3, 0.4, 0.5, 0.6];
const ticksA8 = [0, 0.2, 0.4, 0.6, 0.8];
const ticksD4 = [-0.4, -0.2, 0, 0.2, 0.4];
const ticksD30 = [-0.30, -0.15, 0, 0.15, 0.30];
const ticksD3 = [-0.3, -0.2, -0.1, 0, 0.1, 0.2, 0.3];
const ticksD2 = [-0.2, -0.1, 0, 0.1, 0.2];
const ticksD24 = [-0.24, -0.12, 0, 0.12, 0.24];
const ticksD15 = [-0.15, -0.10, -0.05, 0, 0.05, 0.10, 0.15];

// page layout
const cols = [
  { left: 0, plotLeft: 55, plotRight: 379 },
  { left: 383, plotLeft: 440, plotRight: 764 }
];
const groups = [
  { caption: 419, rows: [[4, 66], [85, 147], [173, 235], [258, 319], [342, 403]] },
  { caption: 846, rows: [[447, 509], [526, 587], [606, 668], [681, 743], [764, 826]] },
  { caption: 1271, rows: [[868, 930], [949, 1011], [1028, 1090], [1108, 1170], [1190, 1252]] }
];

const rowStyle = {
  s:  { color: '#8a1a12', width: 1, label: '<i>s</i>' },
  a3: { color: '#221a52', width: 1, label: '<i>a</i><sub>3</sub>', stepped: true, dash: [2, 1.5] },
  d1: { color: '#0c5922', width: 0.9, label: '<i>d</i><sub>1</sub>' },
  d2: { color: '#47460f', width: 0.9, label: '<i>d</i><sub>2</sub>' },
  d3: { color: '#1a6a2a', width: 0.9, label: '<i>d</i><sub>3</sub>' }
};

const pollutants = [
  { name: 'PM2.5', col: 0, group: 0, rows: [
    { key: 's', data: pm25S, range: [0, 1], ticks: ticksS, dec: 1 },
    { key: 'a3', data: pm25A3, range: [0, 0.5], ticks: ticksA5, dec: 1 },
    { key: 'd1', data: pm25D1, range: [-0.4, 0.4], ticks: ticksD4, dec: 1 },
    { key: 'd2', data: pm25D2, range: [-0.3, 0.3], ticks: ticksD30, dec: 2 },
    { key: 'd3', data: pm25D3, range: [-0.3, 0.3], ticks: ticksD30, dec: 2, sides: true }
  ]},
  { name: 'PM10', col: 1, group: 0, rows: [
    { key: 's', data: pm10S, range: [0, 1], ticks: ticksS, dec: 1 },
    { key: 'a3', data: pm10A3, range: [0, 0.5], ticks: ticksA5, dec: 1 },
    { key: 'd1', data: pm10D1, range: [-0.4, 0.4], ticks: ticksD4, dec: 1 },
    { key: 'd2', data: pm10D2, range: [-0.4, 0.4], ticks: ticksD4, dec: 1, sides: true },
    { key: 'd3', data: pm10D3, range: [-0.3, 0.3], ticks: ticksD30, dec: 2 }
  ]},
  { name: 'CO', col: 0, group: 1, rows: [
    { key: 's', data: coS, range: [0, 1], ticks: ticksS, dec: 1 },
    { key: 'a3', data: coA3, range: [0, 0.6], ticks: ticksA5, dec: 1 },
    { key: 'd1', data: coD1, range: [-0.25, 0.25], ticks: ticksD2, dec: 1 },
    { key: 'd2', data: coD2, range: [-0.37, 0.33], ticks: ticksD3, dec: 1 },
    { key: 'd3', data: coD3, range: [-0.33, 0.33], ticks: ticksD24, dec: 2 }
  ]},
  { name: 'NO<sub>2</sub>', col: 1, group: 1, rows: [
    { key: 's', data: no2S, range: [0, 1], ticks: ticksS, dec: 1 },
    { key: 'a3', data: no2A3, range: [0, 0.6], ticks: ticksA6, dec: 1, sides: true },
    { key: 'd1', data: no2D1, range: [-0.4, 0.4], ticks: ticksD4, dec: 1 },
    { key: 'd2', data: no2D2, range: [-0.25, 0.25], ticks: ticksD2, dec: 1 },
    { key: 'd3', data: no2D3, range: [-0.2, 0.2], ticks: ticksD2, dec: 1 }
  ]},
  { name: 'SO<sub>2</sub>', col: 0, group: 2, rows: [
    { key: 's', data: so2S, range: [0, 1], ticks: ticksS, dec: 1 },
    { key: 'a3', data: so2A3, range: [0, 0.8], ticks: ticksA8, dec: 1 },
    { key: 'd1', data: so2D1, range: [-0.31, 0.31], ticks: ticksD3, dec: 1 },
    { key: 'd2', data: so2D2, range: [-0.28, 0.28], ticks: ticksD2, dec: 1 },
    { key: 'd3', data: so2D3, range: [-0.155, 0.155], ticks: ticksD15, dec: 2 }
  ]},
  { name: 'O<sub>3</sub>', col: 1, group: 2, rows: [
    { key: 's', data: o3S, range: [0, 1], ticks: ticksS, dec: 1 },
    { key: 'a3', data: o3A3, range: [0, 0.8], ticks: ticksA8, dec: 1 },
    { key: 'd1', data: o3D1, range: [-0.4, 0.4], ticks: ticksD30, dec: 2, sides: true },
    { key: 'd2', data: o3D2, range: [-0.3, 0.3], ticks: ticksD30, dec: 2 },
    { key: 'd3', data: o3D3, range: [-0.27, 0.27], ticks: ticksD2, dec: 1 }
  ]}
];

const tickFont = { family: 'Liberation Serif', size: 12 };
const fmt = (v, dec) => (v < -1e-9 ? '\u2212' : '') + Math.abs(v).toFixed(dec);

// black box round the plot area (some panels only show the side lines)
const framePlugin = {
  id: 'frame',
  afterDatasetsDraw(chart, args, opts) {
    const { ctx, chartArea: a } = chart;
    const l = Math.round(a.left) + 0.5, r = Math.round(a.right) - 0.5;
    const t = Math.round(a.top) + 0.5, b = Math.round(a.bottom) - 0.5;
    ctx.save();
    ctx.strokeStyle = '#000';
    ctx.lineWidth = 1;
    ctx.beginPath();
    ctx.moveTo(l, t); ctx.lineTo(l, b);
    ctx.moveTo(r, t); ctx.lineTo(r, b);
    if (!opts.sides) {
      ctx.moveTo(l, t); ctx.lineTo(r, t);
      ctx.moveTo(l, b); ctx.lineTo(r, b);
    }
    ctx.stroke();
    ctx.restore();
  }
};

const measure = document.createElement('canvas').getContext('2d');
measure.font = '12px "Liberation Serif"';

function makePanel(col, top, bottom, row) {
  const st = rowStyle[row.key];
  const h = bottom - top + 16;
  const canvas = document.createElement('canvas');
  canvas.width = 383;
  canvas.height = h;
  canvas.style.cssText = `position:absolute;left:${col.left}px;top:${top - 8}px;width:383px;height:${h}px`;
  document.body.appendChild(canvas);

  new Chart(canvas, {
    type: 'line',
    data: {
      labels: row.data.map((_, i) => i),
      datasets: [{
        data: row.data,
        borderColor: st.color,
        borderWidth: st.width,
        borderDash: st.dash || [],
        pointRadius: 0,
        tension: 0,
        stepped: st.stepped ? 'middle' : false
      }]
    },
    options: {
      responsive: false,
      animation: false,
      devicePixelRatio: 1,
      events: [],
      layout: { padding: { top: 8, bottom: 8, left: 0, right: col.left + 383 - col.plotRight } },
      plugins: { legend: { display: false }, tooltip: { enabled: false }, frame: { sides: !!row.sides } },
      scales: {
        x: { display: false },
        y: {
          min: row.range[0],
          max: row.range[1],
          grid: { display: false, drawTicks: false },
          border: { display: false },
          afterFit: s => { s.width = col.plotLeft - col.left; },
          afterBuildTicks: s => { s.ticks = row.ticks.map(v => ({ value: v })); },
          ticks: { padding: 7, color: '#111', font: tickFont, autoSkip: false, callback: v => fmt(v, row.dec) }
        }
      }
    },
    plugins: [framePlugin]
  });

  // axis name, to the left of the widest tick label
  const widest = Math.max(...row.ticks.map(v => measure.measureText(fmt(v, row.dec)).width));
  const lab = document.createElement('div');
  lab.className = 'ylab';
  lab.innerHTML = st.label;
  lab.style.right = (766 - (col.plotLeft - 7 - widest - 10)) + 'px';
  lab.style.top = ((top + bottom) / 2 - 9) + 'px';
  document.body.appendChild(lab);
}

pollutants.forEach(p => {
  const col = cols[p.col];
  const grp = groups[p.group];
  p.rows.forEach((row, i) => makePanel(col, grp.rows[i][0], grp.rows[i][1], row));
  const cap = document.createElement('div');
  cap.className = 'cap';
  cap.innerHTML = p.name;
  cap.style.left = ((col.plotLeft + col.plotRight) / 2 - 100) + 'px';
  cap.style.top = (grp.caption - 8) + 'px';
  document.body.appendChild(cap);
});
</script>
</body>
</html>
